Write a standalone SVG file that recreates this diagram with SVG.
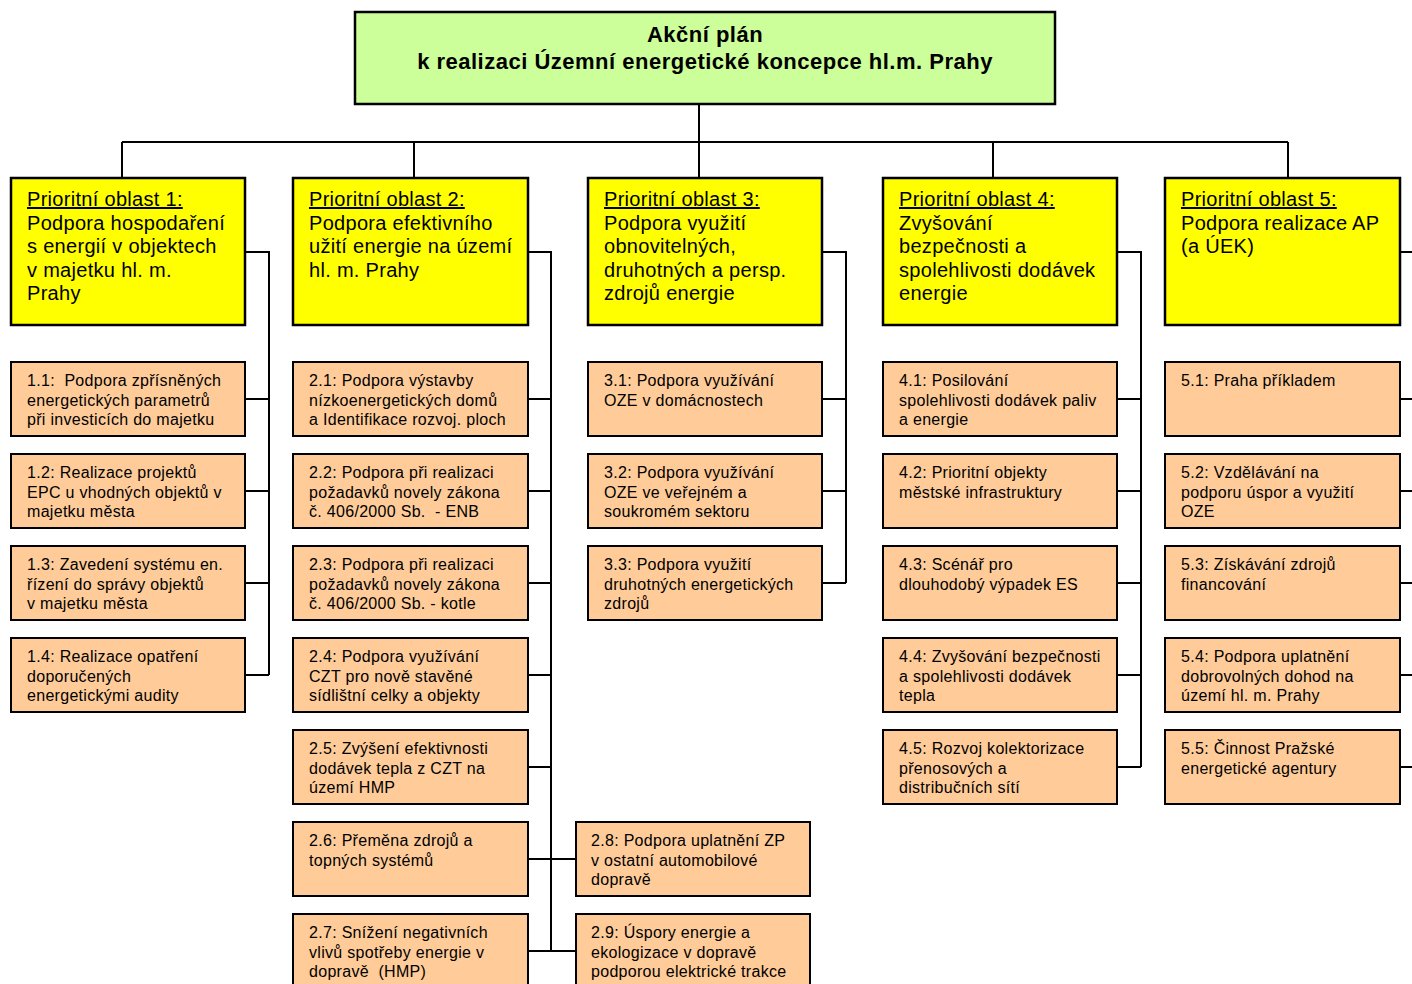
<svg xmlns="http://www.w3.org/2000/svg" width="1412" height="984" viewBox="0 0 1412 984">
<style>
text{font-family:"Liberation Sans",Arial,sans-serif;fill:#000;white-space:pre}
.title{font-size:22px;font-weight:bold;text-anchor:middle;letter-spacing:0.5px}
.hd{font-size:20px;letter-spacing:0.3px}
.ul{text-decoration:underline}
.ch{font-size:16px;letter-spacing:0.3px}
.tb{fill:#CCFF99;stroke:#000;stroke-width:2.5}
.hb{fill:#FFFF00;stroke:#000;stroke-width:2.5}
.cb{fill:#FFCC99;stroke:#000;stroke-width:2}
.cn{fill:none;stroke:#000;stroke-width:2}
</style>
<rect width="1412" height="984" fill="#fff"/>
<g id="connectors">
<path class="cn" d="M699 104V142M122 142H1288M122 142V178M414 142V178M699 142V178M993 142V178M1288 142V178"/>
<path class="cn" d="M245 252H269V675M245 399H269M245 491H269M245 583H269M245 675H269"/>
<path class="cn" d="M528 252H551V951M528 399H551M528 491H551M528 583H551M528 675H551M528 767H551M528 859H576M528 951H576"/>
<path class="cn" d="M822 252H846V583M822 399H846M822 491H846M822 583H846"/>
<path class="cn" d="M1117 252H1141V767M1117 399H1141M1117 491H1141M1117 583H1141M1117 675H1141M1117 767H1141"/>
<path class="cn" d="M1400 252H1414M1400 399H1414M1400 491H1414M1400 583H1414M1400 675H1414M1400 767H1414"/>
</g>
<g id="title"><rect class="tb" x="355" y="12" width="700" height="92"/><text class="title" x="705" y="42">Akční plán</text><text class="title" x="705" y="69">k realizaci Územní energetické koncepce hl.m. Prahy</text></g>
<g id="po1"><rect class="hb" x="11" y="178" width="234" height="147"/><text class="hd" x="27" y="206"><tspan class="ul">Prioritní oblast 1:</tspan><tspan x="27" y="229.5">Podpora hospodaření</tspan><tspan x="27" y="253">s energií v objektech</tspan><tspan x="27" y="276.5">v majetku hl. m.</tspan><tspan x="27" y="300">Prahy</tspan></text></g>
<g id="po2"><rect class="hb" x="293" y="178" width="235" height="147"/><text class="hd" x="309" y="206"><tspan class="ul">Prioritní oblast 2:</tspan><tspan x="309" y="229.5">Podpora efektivního</tspan><tspan x="309" y="253">užití energie na území</tspan><tspan x="309" y="276.5">hl. m. Prahy</tspan></text></g>
<g id="po3"><rect class="hb" x="588" y="178" width="234" height="147"/><text class="hd" x="604" y="206"><tspan class="ul">Prioritní oblast 3:</tspan><tspan x="604" y="229.5">Podpora využití</tspan><tspan x="604" y="253">obnovitelných,</tspan><tspan x="604" y="276.5">druhotných a persp.</tspan><tspan x="604" y="300">zdrojů energie</tspan></text></g>
<g id="po4"><rect class="hb" x="883" y="178" width="234" height="147"/><text class="hd" x="899" y="206"><tspan class="ul">Prioritní oblast 4:</tspan><tspan x="899" y="229.5">Zvyšování</tspan><tspan x="899" y="253">bezpečnosti a</tspan><tspan x="899" y="276.5">spolehlivosti dodávek</tspan><tspan x="899" y="300">energie</tspan></text></g>
<g id="po5"><rect class="hb" x="1165" y="178" width="235" height="147"/><text class="hd" x="1181" y="206"><tspan class="ul">Prioritní oblast 5:</tspan><tspan x="1181" y="229.5">Podpora realizace AP</tspan><tspan x="1181" y="253">(a ÚEK)</tspan></text></g>

<g id="n11"><rect class="cb" x="11" y="362" width="234" height="74"/><text class="ch" x="27" y="386">1.1:  Podpora zpřísněných<tspan x="27" y="405.5">energetických parametrů</tspan><tspan x="27" y="425">při investicích do majetku</tspan></text></g>
<g id="n12"><rect class="cb" x="11" y="454" width="234" height="74"/><text class="ch" x="27" y="478">1.2: Realizace projektů<tspan x="27" y="497.5">EPC u vhodných objektů v</tspan><tspan x="27" y="517">majetku města</tspan></text></g>
<g id="n13"><rect class="cb" x="11" y="546" width="234" height="74"/><text class="ch" x="27" y="570">1.3: Zavedení systému en.<tspan x="27" y="589.5">řízení do správy objektů</tspan><tspan x="27" y="609">v majetku města</tspan></text></g>
<g id="n14"><rect class="cb" x="11" y="638" width="234" height="74"/><text class="ch" x="27" y="662">1.4: Realizace opatření<tspan x="27" y="681.5">doporučených</tspan><tspan x="27" y="701">energetickými audity</tspan></text></g>

<g id="n21"><rect class="cb" x="293" y="362" width="235" height="74"/><text class="ch" x="309" y="386">2.1: Podpora výstavby<tspan x="309" y="405.5">nízkoenergetických domů</tspan><tspan x="309" y="425">a Identifikace rozvoj. ploch</tspan></text></g>
<g id="n22"><rect class="cb" x="293" y="454" width="235" height="74"/><text class="ch" x="309" y="478">2.2: Podpora při realizaci<tspan x="309" y="497.5">požadavků novely zákona</tspan><tspan x="309" y="517">č. 406/2000 Sb.  - ENB</tspan></text></g>
<g id="n23"><rect class="cb" x="293" y="546" width="235" height="74"/><text class="ch" x="309" y="570">2.3: Podpora při realizaci<tspan x="309" y="589.5">požadavků novely zákona</tspan><tspan x="309" y="609">č. 406/2000 Sb. - kotle</tspan></text></g>
<g id="n24"><rect class="cb" x="293" y="638" width="235" height="74"/><text class="ch" x="309" y="662">2.4: Podpora využívání<tspan x="309" y="681.5">CZT pro nově stavěné</tspan><tspan x="309" y="701">sídlištní celky a objekty</tspan></text></g>
<g id="n25"><rect class="cb" x="293" y="730" width="235" height="74"/><text class="ch" x="309" y="754">2.5: Zvýšení efektivnosti<tspan x="309" y="773.5">dodávek tepla z CZT na</tspan><tspan x="309" y="793">území HMP</tspan></text></g>
<g id="n26"><rect class="cb" x="293" y="822" width="235" height="74"/><text class="ch" x="309" y="846">2.6: Přeměna zdrojů a<tspan x="309" y="865.5">topných systémů</tspan></text></g>
<g id="n27"><rect class="cb" x="293" y="914" width="235" height="74"/><text class="ch" x="309" y="938">2.7: Snížení negativních<tspan x="309" y="957.5">vlivů spotřeby energie v</tspan><tspan x="309" y="977">dopravě  (HMP)</tspan></text></g>
<g id="n28"><rect class="cb" x="576" y="822" width="234" height="74"/><text class="ch" x="591" y="846">2.8: Podpora uplatnění ZP<tspan x="591" y="865.5">v ostatní automobilové</tspan><tspan x="591" y="885">dopravě</tspan></text></g>
<g id="n29"><rect class="cb" x="576" y="914" width="234" height="74"/><text class="ch" x="591" y="938">2.9: Úspory energie a<tspan x="591" y="957.5">ekologizace v dopravě</tspan><tspan x="591" y="977">podporou elektrické trakce</tspan></text></g>

<g id="n31"><rect class="cb" x="588" y="362" width="234" height="74"/><text class="ch" x="604" y="386">3.1: Podpora využívání<tspan x="604" y="405.5">OZE v domácnostech</tspan></text></g>
<g id="n32"><rect class="cb" x="588" y="454" width="234" height="74"/><text class="ch" x="604" y="478">3.2: Podpora využívání<tspan x="604" y="497.5">OZE ve veřejném a</tspan><tspan x="604" y="517">soukromém sektoru</tspan></text></g>
<g id="n33"><rect class="cb" x="588" y="546" width="234" height="74"/><text class="ch" x="604" y="570">3.3: Podpora využití<tspan x="604" y="589.5">druhotných energetických</tspan><tspan x="604" y="609">zdrojů</tspan></text></g>

<g id="n41"><rect class="cb" x="883" y="362" width="234" height="74"/><text class="ch" x="899" y="386">4.1: Posilování<tspan x="899" y="405.5">spolehlivosti dodávek paliv</tspan><tspan x="899" y="425">a energie</tspan></text></g>
<g id="n42"><rect class="cb" x="883" y="454" width="234" height="74"/><text class="ch" x="899" y="478">4.2: Prioritní objekty<tspan x="899" y="497.5">městské infrastruktury</tspan></text></g>
<g id="n43"><rect class="cb" x="883" y="546" width="234" height="74"/><text class="ch" x="899" y="570">4.3: Scénář pro<tspan x="899" y="589.5">dlouhodobý výpadek ES</tspan></text></g>
<g id="n44"><rect class="cb" x="883" y="638" width="234" height="74"/><text class="ch" x="899" y="662">4.4: Zvyšování bezpečnosti<tspan x="899" y="681.5">a spolehlivosti dodávek</tspan><tspan x="899" y="701">tepla</tspan></text></g>
<g id="n45"><rect class="cb" x="883" y="730" width="234" height="74"/><text class="ch" x="899" y="754">4.5: Rozvoj kolektorizace<tspan x="899" y="773.5">přenosových a</tspan><tspan x="899" y="793">distribučních sítí</tspan></text></g>

<g id="n51"><rect class="cb" x="1165" y="362" width="235" height="74"/><text class="ch" x="1181" y="386">5.1: Praha příkladem</text></g>
<g id="n52"><rect class="cb" x="1165" y="454" width="235" height="74"/><text class="ch" x="1181" y="478">5.2: Vzdělávání na<tspan x="1181" y="497.5">podporu úspor a využití</tspan><tspan x="1181" y="517">OZE</tspan></text></g>
<g id="n53"><rect class="cb" x="1165" y="546" width="235" height="74"/><text class="ch" x="1181" y="570">5.3: Získávání zdrojů<tspan x="1181" y="589.5">financování</tspan></text></g>
<g id="n54"><rect class="cb" x="1165" y="638" width="235" height="74"/><text class="ch" x="1181" y="662">5.4: Podpora uplatnění<tspan x="1181" y="681.5">dobrovolných dohod na</tspan><tspan x="1181" y="701">území hl. m. Prahy</tspan></text></g>
<g id="n55"><rect class="cb" x="1165" y="730" width="235" height="74"/><text class="ch" x="1181" y="754">5.5: Činnost Pražské<tspan x="1181" y="773.5">energetické agentury</tspan></text></g>
</svg>
